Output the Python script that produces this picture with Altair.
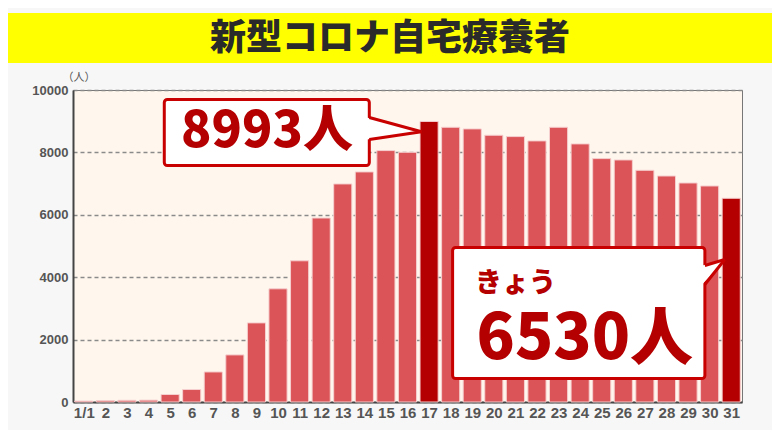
import json
import altair as alt
import pandas as pd

# ---- data ----
days = list(range(1, 32))
values = [30, 45, 55, 60, 240, 400, 963, 1509, 2536, 3628, 4526, 5897, 6989, 7374,
          8058, 8003, 8993, 8806, 8753, 8550, 8507, 8368, 8806, 8272, 7801, 7758,
          7426, 7244, 7020, 6924, 6530]
highlight_days = [17, 31]
x_labels = ["1/1"] + [str(d) for d in range(2, 32)]
y_ticks = [0, 2000, 4000, 6000, 8000, 10000]
title_text = "新型コロナ自宅療養者"
unit_label = "（人）"
peak_label = "8993人"
today_small = "きょう"
today_label = "6530人"

BAR = "#DB5457"
HL = "#B40000"
RED = "#C80000"
GRAY = "#555555"
CJK = "Noto Sans CJK JP"
NUM = "Liberation Sans, Arial, sans-serif"

df = pd.DataFrame({"day": days, "value": values})
df["hl"] = df["day"].isin(highlight_days)

xs = alt.Scale(domain=[0.5, 31.5], nice=False, zero=False)
ys = alt.Scale(domain=[0, 10000], nice=False)

x_axis = alt.Axis(values=days, labelExpr=f"{json.dumps(x_labels)}[datum.value - 1]",
                  title=None, ticks=False, grid=False, labelOverlap=False, labelFlush=False)
y_axis = alt.Axis(values=y_ticks, format="d", title=None, ticks=False, grid=True)

bars = alt.Chart(df).transform_calculate(
    x0="datum.day - 0.42", x1="datum.day + 0.42"
).mark_rect(stroke="#F6CFCF", strokeWidth=1).encode(
    x=alt.X("x0:Q", scale=xs, axis=x_axis),
    x2="x1:Q",
    y=alt.Y("value:Q", scale=ys, axis=y_axis),
    y2=alt.datum(0),
    color=alt.condition("datum.hl", alt.value(HL), alt.value(BAR)),
)

# ---- callout geometry (data units) ----
def callout(bx0, bx1, by0, by1, jy0, jy1, tip_x, tip_y):
    box = alt.Chart(pd.DataFrame({"x0": [bx0], "x1": [bx1], "y0": [by0], "y1": [by1]})).mark_rect(
        fill="white", stroke=RED, strokeWidth=3, cornerRadius=3
    ).encode(x=alt.X("x0:Q", scale=xs, axis=x_axis), x2="x1:Q",
             y=alt.Y("y0:Q", scale=ys, axis=y_axis), y2="y1:Q")
    tri = alt.Chart(pd.DataFrame({"x": [bx1 - 0.12, tip_x], "y": [jy0, tip_y], "y2": [jy1, tip_y]})).mark_area(
        fill="white", opacity=1
    ).encode(x=alt.X("x:Q", scale=xs, axis=x_axis), y=alt.Y("y:Q", scale=ys, axis=y_axis), y2="y2:Q")
    edges = alt.Chart(pd.DataFrame({
        "x": [bx1, tip_x, bx1, tip_x], "y": [jy0, tip_y, jy1, tip_y], "e": ["a", "a", "b", "b"]
    })).mark_line(color=RED, strokeWidth=3).encode(
        x=alt.X("x:Q", scale=xs, axis=x_axis), y=alt.Y("y:Q", scale=ys, axis=y_axis), detail="e:N")
    return [box, tri, edges]

c1 = callout(4.73, 14.23, 9696, 7580, 9119, 8413, 16.65, 8660)
c2 = callout(18.09, 29.78, 4952, 753, 4375, 3766, 30.7, 4567)

def label(x, y, t, size, align):
    return alt.Chart(pd.DataFrame({"x": [x], "y": [y], "t": [t]})).mark_text(
        font=CJK, fontSize=size, fontWeight=900, color=HL, align=align, baseline="alphabetic"
    ).encode(x=alt.X("x:Q", scale=xs, axis=x_axis), y=alt.Y("y:Q", scale=ys, axis=y_axis), text="t:N")

t1 = label(9.49, 8189, peak_label, 50, "center")
t2 = label(19.13, 3520, today_small, 27, "left")
t3 = label(19.2, 1394, today_label, 63, "left")

one = pd.DataFrame({"t": [title_text]})
band = alt.Chart(one).mark_rect(fill="#FFFF00").encode(
    x=alt.value(-65), x2=alt.value(699), y=alt.value(-77), y2=alt.value(-27))
title = alt.Chart(one).mark_text(
    font=CJK, fontSize=36, fontWeight=900, color="#2A2A2A", align="center", baseline="middle"
).encode(x=alt.value(317), y=alt.value(-51), text="t:N")
unit = alt.Chart(pd.DataFrame({"t": [unit_label]})).mark_text(
    font=CJK, fontSize=11, color=GRAY, align="center", baseline="middle"
).encode(x=alt.value(6), y=alt.value(-12), text="t:N")

chart = alt.layer(bars, *c1, *c2, t1, t2, t3, band, title, unit).properties(
    width=669, height=312, background="#F7F7F7",
    padding={"left": 65, "top": 82, "right": 30, "bottom": 28},
    autosize=alt.AutoSizeParams(type="none"),
).configure_view(
    fill="#FFF7EE", stroke="#777777", strokeWidth=1
).configure_axis(
    labelFont=NUM, labelFontWeight="bold", labelColor=GRAY,
    domainColor="#444444", domainWidth=2,
    gridDash=[4, 3], gridColor="#8a8a8a", gridWidth=1.5,
).configure_axisX(
    labelFontSize=15, labelPadding=3, labelOverlap=False, labelFlush=False
).configure_axisY(
    labelFontSize=13, labelPadding=5
)

chart.save("out.html", embed_options={"renderer": "svg", "actions": False})
